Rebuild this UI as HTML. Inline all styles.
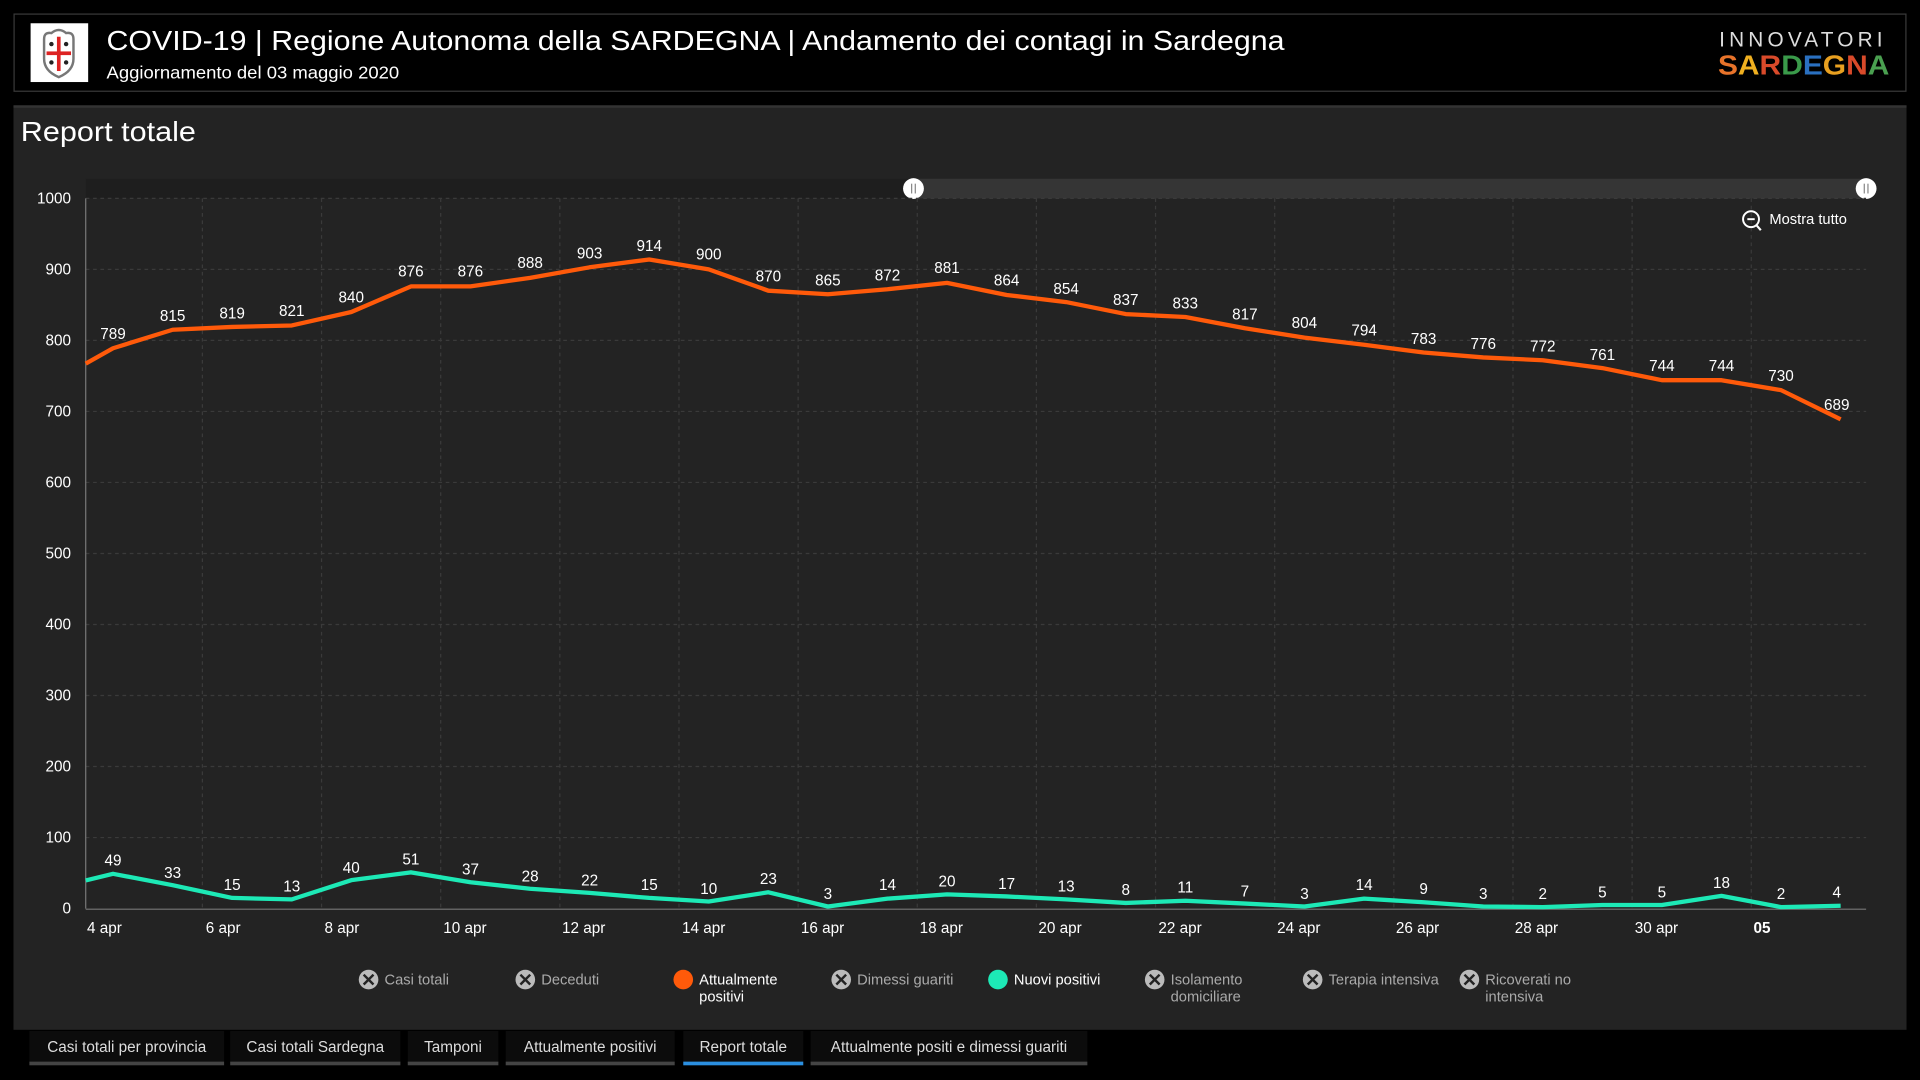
<!DOCTYPE html>
<html><head><meta charset="utf-8"><style>
html,body{margin:0;padding:0;background:#000;width:1920px;height:1080px;overflow:hidden}
svg{display:block}
text{font-family:"Liberation Sans",sans-serif}
</style></head><body>
<svg width="1920" height="1080" viewBox="0 0 1568 882" xmlns="http://www.w3.org/2000/svg">
<rect x="0" y="0" width="1568" height="882" fill="#000"/>
<!-- header -->
<rect x="11.5" y="11.5" width="1545" height="63" fill="#000" stroke="#3a3a3a"/>
<rect x="25" y="19" width="47" height="48" fill="#fff"/>
<path d="M36 32 Q36 26 42 27 Q48 22 54 27 Q60 26 60 32 L60 48 Q60 58 48 63 Q36 58 36 48 Z" fill="#fff" stroke="#777" stroke-width="2"/>
<rect x="46.5" y="30" width="3" height="28" fill="#d22"/>
<rect x="38" y="42" width="20" height="3" fill="#d22"/>
<circle cx="42" cy="36" r="1.8" fill="#222"/><circle cx="54" cy="36" r="1.8" fill="#222"/>
<circle cx="42" cy="51" r="1.8" fill="#222"/><circle cx="54" cy="51" r="1.8" fill="#222"/>
<text x="87" y="41" font-size="23" fill="#fff" textLength="962" lengthAdjust="spacingAndGlyphs">COVID-19 | Regione Autonoma della SARDEGNA | Andamento dei contagi in Sardegna</text>
<text x="87" y="64" font-size="14" fill="#fff" textLength="239" lengthAdjust="spacingAndGlyphs">Aggiornamento del 03 maggio 2020</text>
<text x="1404" y="38" font-size="17" fill="#ddd" letter-spacing="3.4">INNOVATORI</text>
<text x="1403" y="61" font-size="23" font-weight="bold" textLength="140" lengthAdjust="spacingAndGlyphs"><tspan fill="#e8732a">S</tspan><tspan fill="#f0b020">A</tspan><tspan fill="#d94a2a">R</tspan><tspan fill="#3a9a4a">D</tspan><tspan fill="#2a70c0">E</tspan><tspan fill="#e8a020">G</tspan><tspan fill="#d94a2a">N</tspan><tspan fill="#4aa050">A</tspan></text>
<!-- panel -->
<rect x="11" y="86" width="1546" height="755" fill="#232323"/>
<rect x="11" y="86" width="1546" height="2" fill="#333"/>
<text x="17" y="115" font-size="23" fill="#fff" textLength="143" lengthAdjust="spacingAndGlyphs">Report totale</text>
<!-- scrollbar -->
<rect x="70" y="146" width="676" height="16" fill="#1e1e1e"/>
<rect x="746" y="146" width="778" height="16" fill="#353535"/>
<circle cx="746" cy="154" r="8.5" fill="#fff"/><rect x="744" y="150" width="1" height="8" fill="#888"/><rect x="747" y="150" width="1" height="8" fill="#888"/>
<circle cx="1524" cy="154" r="8.5" fill="#fff"/><rect x="1522" y="150" width="1" height="8" fill="#888"/><rect x="1525" y="150" width="1" height="8" fill="#888"/>
<!-- grid -->
<g stroke="#3a3a3a" stroke-width="1" stroke-dasharray="3,3">
<line x1="70" y1="162" x2="1524" y2="162"/><line x1="70" y1="220" x2="1524" y2="220"/><line x1="70" y1="278" x2="1524" y2="278"/><line x1="70" y1="336" x2="1524" y2="336"/><line x1="70" y1="394" x2="1524" y2="394"/><line x1="70" y1="452" x2="1524" y2="452"/><line x1="70" y1="510" x2="1524" y2="510"/><line x1="70" y1="568" x2="1524" y2="568"/><line x1="70" y1="626" x2="1524" y2="626"/><line x1="70" y1="684" x2="1524" y2="684"/>
<line x1="165.3" y1="162" x2="165.3" y2="742"/><line x1="262.6" y1="162" x2="262.6" y2="742"/><line x1="359.9" y1="162" x2="359.9" y2="742"/><line x1="457.2" y1="162" x2="457.2" y2="742"/><line x1="554.5" y1="162" x2="554.5" y2="742"/><line x1="651.8" y1="162" x2="651.8" y2="742"/><line x1="749.1" y1="162" x2="749.1" y2="742"/><line x1="846.4" y1="162" x2="846.4" y2="742"/><line x1="943.7" y1="162" x2="943.7" y2="742"/><line x1="1041" y1="162" x2="1041" y2="742"/><line x1="1138.3" y1="162" x2="1138.3" y2="742"/><line x1="1235.6" y1="162" x2="1235.6" y2="742"/><line x1="1332.9" y1="162" x2="1332.9" y2="742"/><line x1="1430.2" y1="162" x2="1430.2" y2="742"/>
</g>
<line x1="70" y1="162" x2="70" y2="742" stroke="#777"/>
<line x1="70" y1="742.5" x2="1524" y2="742.5" stroke="#777"/>
<g font-size="12.5" fill="#fff" text-anchor="end">
<text x="58" y="166">1000</text><text x="58" y="224">900</text><text x="58" y="282">800</text><text x="58" y="340">700</text><text x="58" y="398">600</text><text x="58" y="456">500</text><text x="58" y="514">400</text><text x="58" y="572">300</text><text x="58" y="630">200</text><text x="58" y="688">100</text><text x="58" y="746">0</text>
</g>
<g font-size="12.5" fill="#fff">
<text x="71" y="762">4 apr</text><text x="168" y="762">6 apr</text><text x="265" y="762">8 apr</text><text x="362" y="762">10 apr</text><text x="459" y="762">12 apr</text><text x="557" y="762">14 apr</text><text x="654" y="762">16 apr</text><text x="751" y="762">18 apr</text><text x="848" y="762">20 apr</text><text x="946" y="762">22 apr</text><text x="1043" y="762">24 apr</text><text x="1140" y="762">26 apr</text><text x="1237" y="762">28 apr</text><text x="1335" y="762">30 apr</text><text x="1432" y="762" font-weight="bold">05</text>
</g>
<!-- mostra tutto -->
<circle cx="1430" cy="179" r="6.5" fill="none" stroke="#fff" stroke-width="1.6"/>
<line x1="1427" y1="179" x2="1433" y2="179" stroke="#fff" stroke-width="1.6"/>
<line x1="1434.5" y1="184" x2="1438" y2="188" stroke="#fff" stroke-width="1.8"/>
<text x="1445" y="183" font-size="12" fill="#fff">Mostra tutto</text>
<!-- orange -->
<polyline fill="none" stroke="#ff5a0a" stroke-width="3.5" stroke-linejoin="round" points="70,297 92.3,284.4 141,269.3 189.6,267 238.3,265.8 286.9,254.8 335.6,233.9 384.2,233.9 432.9,226.9 481.5,218.3 530.2,211.9 578.8,220 627.5,237.4 676.1,240.3 724.8,236.2 773.4,231 822.1,240.9 870.7,246.7 919.4,256.5 968,258.9 1016.7,268.1 1065.3,275.7 1114,281.5 1162.6,287.9 1211.3,291.9 1259.9,294.2 1308.6,300.6 1357.2,310.5 1405.9,310.5 1454.5,318.6 1503.2,342.4"/>
<g font-size="12.5" fill="#fff" text-anchor="middle">
<text x="92.3" y="277">789</text><text x="141" y="262">815</text><text x="189.6" y="260">819</text><text x="238.3" y="258">821</text><text x="286.9" y="247">840</text><text x="335.6" y="226">876</text><text x="384.2" y="226">876</text><text x="432.9" y="219">888</text><text x="481.5" y="211">903</text><text x="530.2" y="205">914</text><text x="578.8" y="212">900</text><text x="627.5" y="230">870</text><text x="676.1" y="233">865</text><text x="724.8" y="229">872</text><text x="773.4" y="223">881</text><text x="822.1" y="233">864</text><text x="870.7" y="240">854</text><text x="919.4" y="249">837</text><text x="968" y="252">833</text><text x="1016.7" y="261">817</text><text x="1065.3" y="268">804</text><text x="1114" y="274">794</text><text x="1162.6" y="281">783</text><text x="1211.3" y="285">776</text><text x="1259.9" y="287">772</text><text x="1308.6" y="294">761</text><text x="1357.2" y="303">744</text><text x="1405.9" y="303">744</text><text x="1454.5" y="311">730</text><text x="1500" y="335">689</text>
</g>
<!-- green -->
<polyline fill="none" stroke="#1de9b6" stroke-width="3.5" stroke-linejoin="round" points="70,719 92.3,713.6 141,722.9 189.6,733.3 238.3,734.5 286.9,718.8 335.6,712.4 384.2,720.5 432.9,725.8 481.5,729.2 530.2,733.3 578.8,736.2 627.5,728.7 676.1,740.3 724.8,733.9 773.4,730.4 822.1,732.1 870.7,734.5 919.4,737.4 968,735.6 1016.7,737.9 1065.3,740.3 1114,733.9 1162.6,736.8 1211.3,740.3 1259.9,740.8 1308.6,739.1 1357.2,739.1 1405.9,731.6 1454.5,740.8 1503.2,739.7"/>
<g font-size="12.5" fill="#fff" text-anchor="middle">
<text x="92.3" y="707">49</text><text x="141" y="717">33</text><text x="189.6" y="727">15</text><text x="238.3" y="728">13</text><text x="286.9" y="713">40</text><text x="335.6" y="706">51</text><text x="384.2" y="714">37</text><text x="432.9" y="720">28</text><text x="481.5" y="723">22</text><text x="530.2" y="727">15</text><text x="578.8" y="730">10</text><text x="627.5" y="722">23</text><text x="676.1" y="734">3</text><text x="724.8" y="727">14</text><text x="773.4" y="724">20</text><text x="822.1" y="726">17</text><text x="870.7" y="728">13</text><text x="919.4" y="731">8</text><text x="968" y="729">11</text><text x="1016.7" y="732">7</text><text x="1065.3" y="734">3</text><text x="1114" y="727">14</text><text x="1162.6" y="730">9</text><text x="1211.3" y="734">3</text><text x="1259.9" y="734">2</text><text x="1308.6" y="733">5</text><text x="1357.2" y="733">5</text><text x="1405.9" y="725">18</text><text x="1454.5" y="734">2</text><text x="1500" y="733">4</text>
</g>
<!-- legend -->
<g font-size="12" fill="#aaa">
<g><circle cx="301" cy="800" r="8" fill="#bbb"/><path d="M297 796 L305 804 M305 796 L297 804" stroke="#232323" stroke-width="2"/><text x="314" y="804">Casi totali</text></g>
<g><circle cx="429" cy="800" r="8" fill="#bbb"/><path d="M425 796 L433 804 M433 796 L425 804" stroke="#232323" stroke-width="2"/><text x="442" y="804">Deceduti</text></g>
<g><circle cx="558" cy="800" r="8" fill="#ff5a0a"/><text x="571" y="804" fill="#fff">Attualmente</text><text x="571" y="818" fill="#fff">positivi</text></g>
<g><circle cx="687" cy="800" r="8" fill="#bbb"/><path d="M683 796 L691 804 M691 796 L683 804" stroke="#232323" stroke-width="2"/><text x="700" y="804">Dimessi guariti</text></g>
<g><circle cx="815" cy="800" r="8" fill="#1de9b6"/><text x="828" y="804" fill="#fff">Nuovi positivi</text></g>
<g><circle cx="943" cy="800" r="8" fill="#bbb"/><path d="M939 796 L947 804 M947 796 L939 804" stroke="#232323" stroke-width="2"/><text x="956" y="804">Isolamento</text><text x="956" y="818">domiciliare</text></g>
<g><circle cx="1072" cy="800" r="8" fill="#bbb"/><path d="M1068 796 L1076 804 M1076 796 L1068 804" stroke="#232323" stroke-width="2"/><text x="1085" y="804">Terapia intensiva</text></g>
<g><circle cx="1200" cy="800" r="8" fill="#bbb"/><path d="M1196 796 L1204 804 M1204 796 L1196 804" stroke="#232323" stroke-width="2"/><text x="1213" y="804">Ricoverati no</text><text x="1213" y="818">intensiva</text></g>
</g>
<!-- tabs -->
<g font-size="12.5" fill="#ddd">
<rect x="24" y="842" width="159" height="26" fill="#0c0c0c"/><rect x="24" y="867" width="159" height="3" fill="#444"/><text x="103.5" y="859" text-anchor="middle">Casi totali per provincia</text>
<rect x="188" y="842" width="139" height="26" fill="#0c0c0c"/><rect x="188" y="867" width="139" height="3" fill="#444"/><text x="257.5" y="859" text-anchor="middle">Casi totali Sardegna</text>
<rect x="333" y="842" width="74" height="26" fill="#0c0c0c"/><rect x="333" y="867" width="74" height="3" fill="#444"/><text x="370" y="859" text-anchor="middle">Tamponi</text>
<rect x="413" y="842" width="138" height="26" fill="#0c0c0c"/><rect x="413" y="867" width="138" height="3" fill="#444"/><text x="482" y="859" text-anchor="middle">Attualmente positivi</text>
<rect x="558" y="842" width="98" height="26" fill="#0c0c0c"/><rect x="558" y="867" width="98" height="3" fill="#2b8fe0"/><text x="607" y="859" text-anchor="middle">Report totale</text>
<rect x="662" y="842" width="226" height="26" fill="#0c0c0c"/><rect x="662" y="867" width="226" height="3" fill="#444"/><text x="775" y="859" text-anchor="middle">Attualmente positi e dimessi guariti</text>
</g>
</svg>
</body></html>
